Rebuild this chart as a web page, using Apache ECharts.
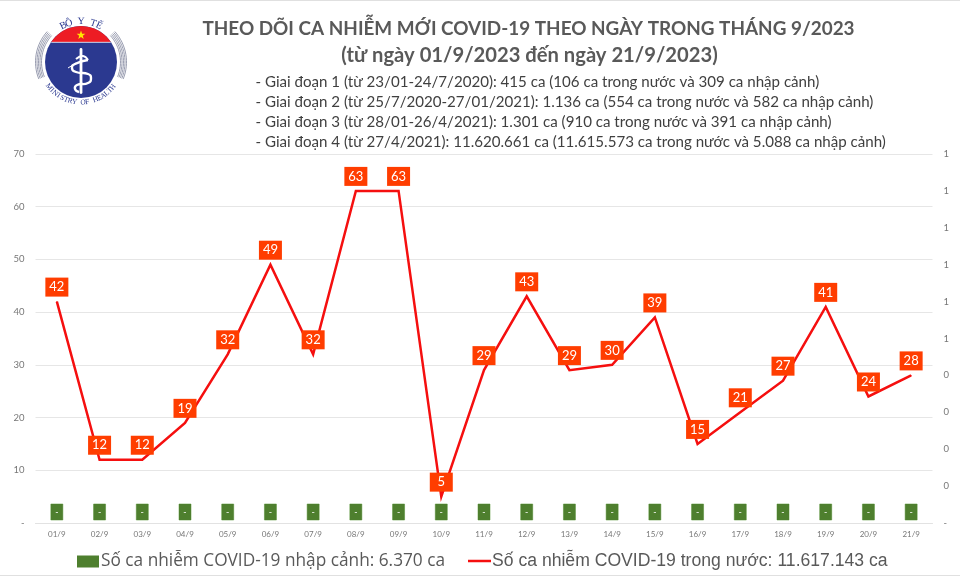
<!DOCTYPE html>
<html><head><meta charset="utf-8">
<style>html,body{margin:0;padding:0;background:#fff}#c{width:960px;height:576px}</style>
<script src="https://cdn.jsdelivr.net/npm/echarts@6/dist/echarts.min.js"></script>
</head><body><div id="c"></div>
<script>
const categories = ['01/9','02/9','03/9','04/9','05/9','06/9','07/9','08/9','09/9','10/9','11/9','12/9','13/9','14/9','15/9','16/9','17/9','18/9','19/9','20/9','21/9'];
const domesticCases = [42,12,12,19,32,49,32,63,63,5,29,43,29,30,39,15,21,27,41,24,28];
const importedCases = [0,0,0,0,0,0,0,0,0,0,0,0,0,0,0,0,0,0,0,0,0];
const importedName = 'Số ca nhiễm COVID-19 nhập cảnh: 6.370 ca';
const domesticName = 'Số ca nhiễm COVID-19 trong nước: 11.617.143 ca';
const titleLines = ['THEO DÕI CA NHIỄM MỚI COVID-19 THEO NGÀY TRONG THÁNG 9/2023','(từ ngày 01/9/2023 đến ngày 21/9/2023)'];
const stageLines = [
 '- Giai đoạn 1 (từ 23/01-24/7/2020): 415 ca (106 ca trong nước và 309 ca nhập cảnh)',
 '- Giai đoạn 2 (từ 25/7/2020-27/01/2021): 1.136 ca (554 ca trong nước và 582 ca nhập cảnh)',
 '- Giai đoạn 3 (từ 28/01-26/4/2021): 1.301 ca (910 ca trong nước và 391 ca nhập cảnh)',
 '- Giai đoạn 4 (từ 27/4/2021): 11.620.661 ca (11.615.573 ca trong nước và 5.088 ca nhập cảnh)'
];
const F='Lato, "Open Sans", sans-serif';
const CX=81, CY=62;
function pol(r,deg){const a=deg*Math.PI/180;return [CX+r*Math.sin(a),CY-r*Math.cos(a)];}
function arcText(txt,r,start,step,inv,size,color){
  return txt.split('').map((ch,i)=>{
    const d=start+i*step, p=pol(r,d);
    return {type:'text',x:p[0],y:p[1],rotation:-(inv?d+180:d)*Math.PI/180,z:5,
      style:{text:ch,fill:color,font:size+'px "Liberation Serif", serif',textAlign:'center',textVerticalAlign:'middle'}};
  });
}
const logo=[];
[45.5,44,42.5,41,39.5].forEach(r=>{
  [[-112,-48],[48,112]].forEach(([a,b])=>{
    const pts=[];for(let d=a;d<=b;d+=4)pts.push(pol(r,d));
    logo.push({type:'polyline',z:3,shape:{points:pts},style:{stroke:'#8f93a8',lineWidth:0.9,fill:null}});
  });
});
logo.push({type:'circle',z:3,shape:{cx:CX,cy:CY,r:36},style:{fill:'#2b3990'}});
(function(){const pts=[];for(let d=-56;d<=56;d+=4)pts.push(pol(35.9,d));
  logo.push({type:'polygon',z:4,shape:{points:pts},style:{fill:'#ed1c24'}});
  logo.push({type:'line',z:4,shape:{x1:pts[0][0],y1:pts[0][1]+0.4,x2:pts[pts.length-1][0],y2:pts[pts.length-1][1]+0.4},style:{stroke:'#fff',lineWidth:0.8}});
})();
(function(){const pts=[];for(let i=0;i<10;i++){const r=i%2?1.9:4.6,a=i*36*Math.PI/180;pts.push([CX+r*Math.sin(a),35.2-r*Math.cos(a)]);}
  logo.push({type:'polygon',z:5,shape:{points:pts},style:{fill:'#ffe600'}});})();
logo.push({type:'rect',z:5,shape:{x:79.6,y:48,width:2.8,height:46,r:1.4},style:{fill:'#fff'}});
logo.push({type:'polyline',z:6,shape:{points:[[88,60],[75,64],[72,68],[76,72],[88,74],[91,78],[88,83],[77,85],[75,89],[79,92]],smooth:0.6},style:{stroke:'#fff',lineWidth:2.4,fill:null}});
logo.push({type:'polyline',z:6,shape:{points:[[76,59],[83,56],[88,60]],smooth:0.5},style:{stroke:'#fff',lineWidth:2,fill:null}});
logo.push({type:'line',z:6,shape:{x1:68,y1:68,x2:76,y2:63},style:{stroke:'#fff',lineWidth:1}});
logo.push(...arcText('BỘ Y TẾ',40.5,-26,8.7,false,10,'#2b3990'));
logo.push(...arcText('MINISTRY OF HEALTH',40.5,232,-6.1,true,7.4,'#2b3990'));

const option={
 backgroundColor:'#fff',
 animation:false,
 title:[
  {text:titleLines[0],left:528.5,top:19,padding:0,textAlign:'center',textStyle:{fontFamily:F,fontSize:18.9,fontWeight:'bold',color:'#595959'}},
  {text:titleLines[1],left:529.5,top:45,padding:0,textAlign:'center',textStyle:{fontFamily:F,fontSize:20.2,fontWeight:'bold',color:'#595959'}},
  ...stageLines.map((t,i)=>({text:t,left:255.5,top:75+i*20,padding:0,textStyle:{fontFamily:F,fontSize:15.1,fontWeight:'normal',color:'#404040'}}))
 ],
 legend:[
  {data:[{name:importedName,icon:'rect'}],left:77,top:553,padding:0,itemWidth:22,itemHeight:12,selectedMode:false,
   textStyle:{fontFamily:'"Open Sans", sans-serif',fontSize:17.25,color:'#595959',padding:[0,0,0,-3]}},
  {data:[{name:domesticName,icon:'rect',itemStyle:{color:'#f50f0f'}}],left:468,top:552,padding:0,itemWidth:23,itemHeight:2.5,selectedMode:false,
   textStyle:{fontFamily:'"Liberation Sans", sans-serif',fontSize:17.6,color:'#595959',padding:[0,0,0,-4]}}
 ],
 grid:{left:35.5,right:27.5,top:154,bottom:53},
 xAxis:{type:'category',data:categories,
  axisLine:{lineStyle:{color:'#e2e2e2',width:1}},axisTick:{show:false},
  axisLabel:{fontFamily:F,fontSize:8,color:'#777',margin:7,interval:0}},
 yAxis:[
  {type:'value',min:0,max:70,interval:10,splitLine:{lineStyle:{color:'#e6e6e6',width:1}},
   axisLine:{show:false},axisTick:{show:false},
   axisLabel:{fontFamily:F,fontSize:9.5,color:'#777',margin:11,formatter:v=>v===0?'-':String(v)}},
  {type:'value',min:0,max:1,interval:0.1,splitLine:{show:false},
   axisLine:{show:false},axisTick:{show:false},
   axisLabel:{fontFamily:F,fontSize:9.5,color:'#777',margin:11,formatter:v=>v===0?'-':String(Math.round(v))}}
 ],
 series:[
  {name:importedName,type:'bar',yAxisIndex:1,data:importedCases,barWidth:12,z:2,
   itemStyle:{color:'#4e7f2e',borderWidth:0},
   label:{show:true,position:'top',distance:3,formatter:()=>'-',color:'#fff',fontFamily:F,fontSize:9,
     backgroundColor:'#4e7f2e',borderColor:'#a5c893',borderWidth:0.5,width:12,height:16,lineHeight:16,align:'center',verticalAlign:'bottom'}},
  {name:domesticName,type:'line',yAxisIndex:0,data:domesticCases,symbol:'circle',symbolSize:1,showSymbol:true,showAllSymbol:true,z:3,
   lineStyle:{color:'#f50f0f',width:2.5,join:'miter'},itemStyle:{color:'#f50f0f'},
   label:{show:true,position:'top',distance:4.5,color:'#fff',fontFamily:F,fontSize:13,
     backgroundColor:'#ff3d00',width:23,height:19,lineHeight:19,align:'center'},
   labelLayout:{hideOverlap:false}}
 ],
 graphic:[
  {type:'rect',z:1,shape:{x:0,y:0,width:960,height:1},style:{fill:'#e0e0e0'}},
  {type:'rect',z:1,shape:{x:0,y:575,width:960,height:1},style:{fill:'#e0e0e0'}},
  ...logo
 ]
};
const chart=echarts.init(document.getElementById('c'),null,{renderer:'canvas'});
chart.setOption(option);
</script></body></html>
